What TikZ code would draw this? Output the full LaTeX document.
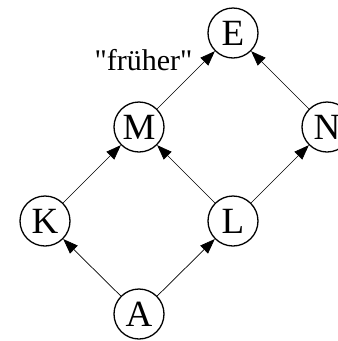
\documentclass[tikz,border=0pt]{standalone}
\usepackage{fontspec}
\setmainfont{Liberation Serif}
\newfontfamily\labfont[Ligatures=TeXOff]{Liberation Serif}
\usetikzlibrary{arrows.meta}
\begin{document}
\begin{tikzpicture}[x=1pt,y=-1pt,
  vert/.style={circle,draw,line width=1.3pt,minimum size=50pt,inner sep=0pt,font=\fontsize{37}{37}\selectfont},
  edge/.style={line width=0.7pt,-{Triangle[length=15pt,width=11pt]}}]
\clip (0,0) rectangle (338,341);
\useasboundingbox (0,0) rectangle (338,341);
\fill[white] (0,0) rectangle (338,341);
\node[vert] (A) at (139,314) {A};
\node[vert] (K) at (45,221) {K};
\node[vert] (L) at (233,221) {L};
\node[vert] (M) at (139,127) {M};
\node[vert] (N) at (327,127) {N};
\node[vert] (E) at (233,33) {E};
\node[anchor=base,inner sep=0pt,font=\labfont\fontsize{30}{30}\selectfont] (lab) at (143.5,70) {"früher"};
\draw[edge] (A) -- (K);
\draw[edge] (A) -- (L);
\draw[edge] (K) -- (M);
\draw[edge] (L) -- (M);
\draw[edge] (L) -- (N);
\draw[edge] (M) -- (E);
\draw[edge] (N) -- (E);
\end{tikzpicture}
\end{document}
